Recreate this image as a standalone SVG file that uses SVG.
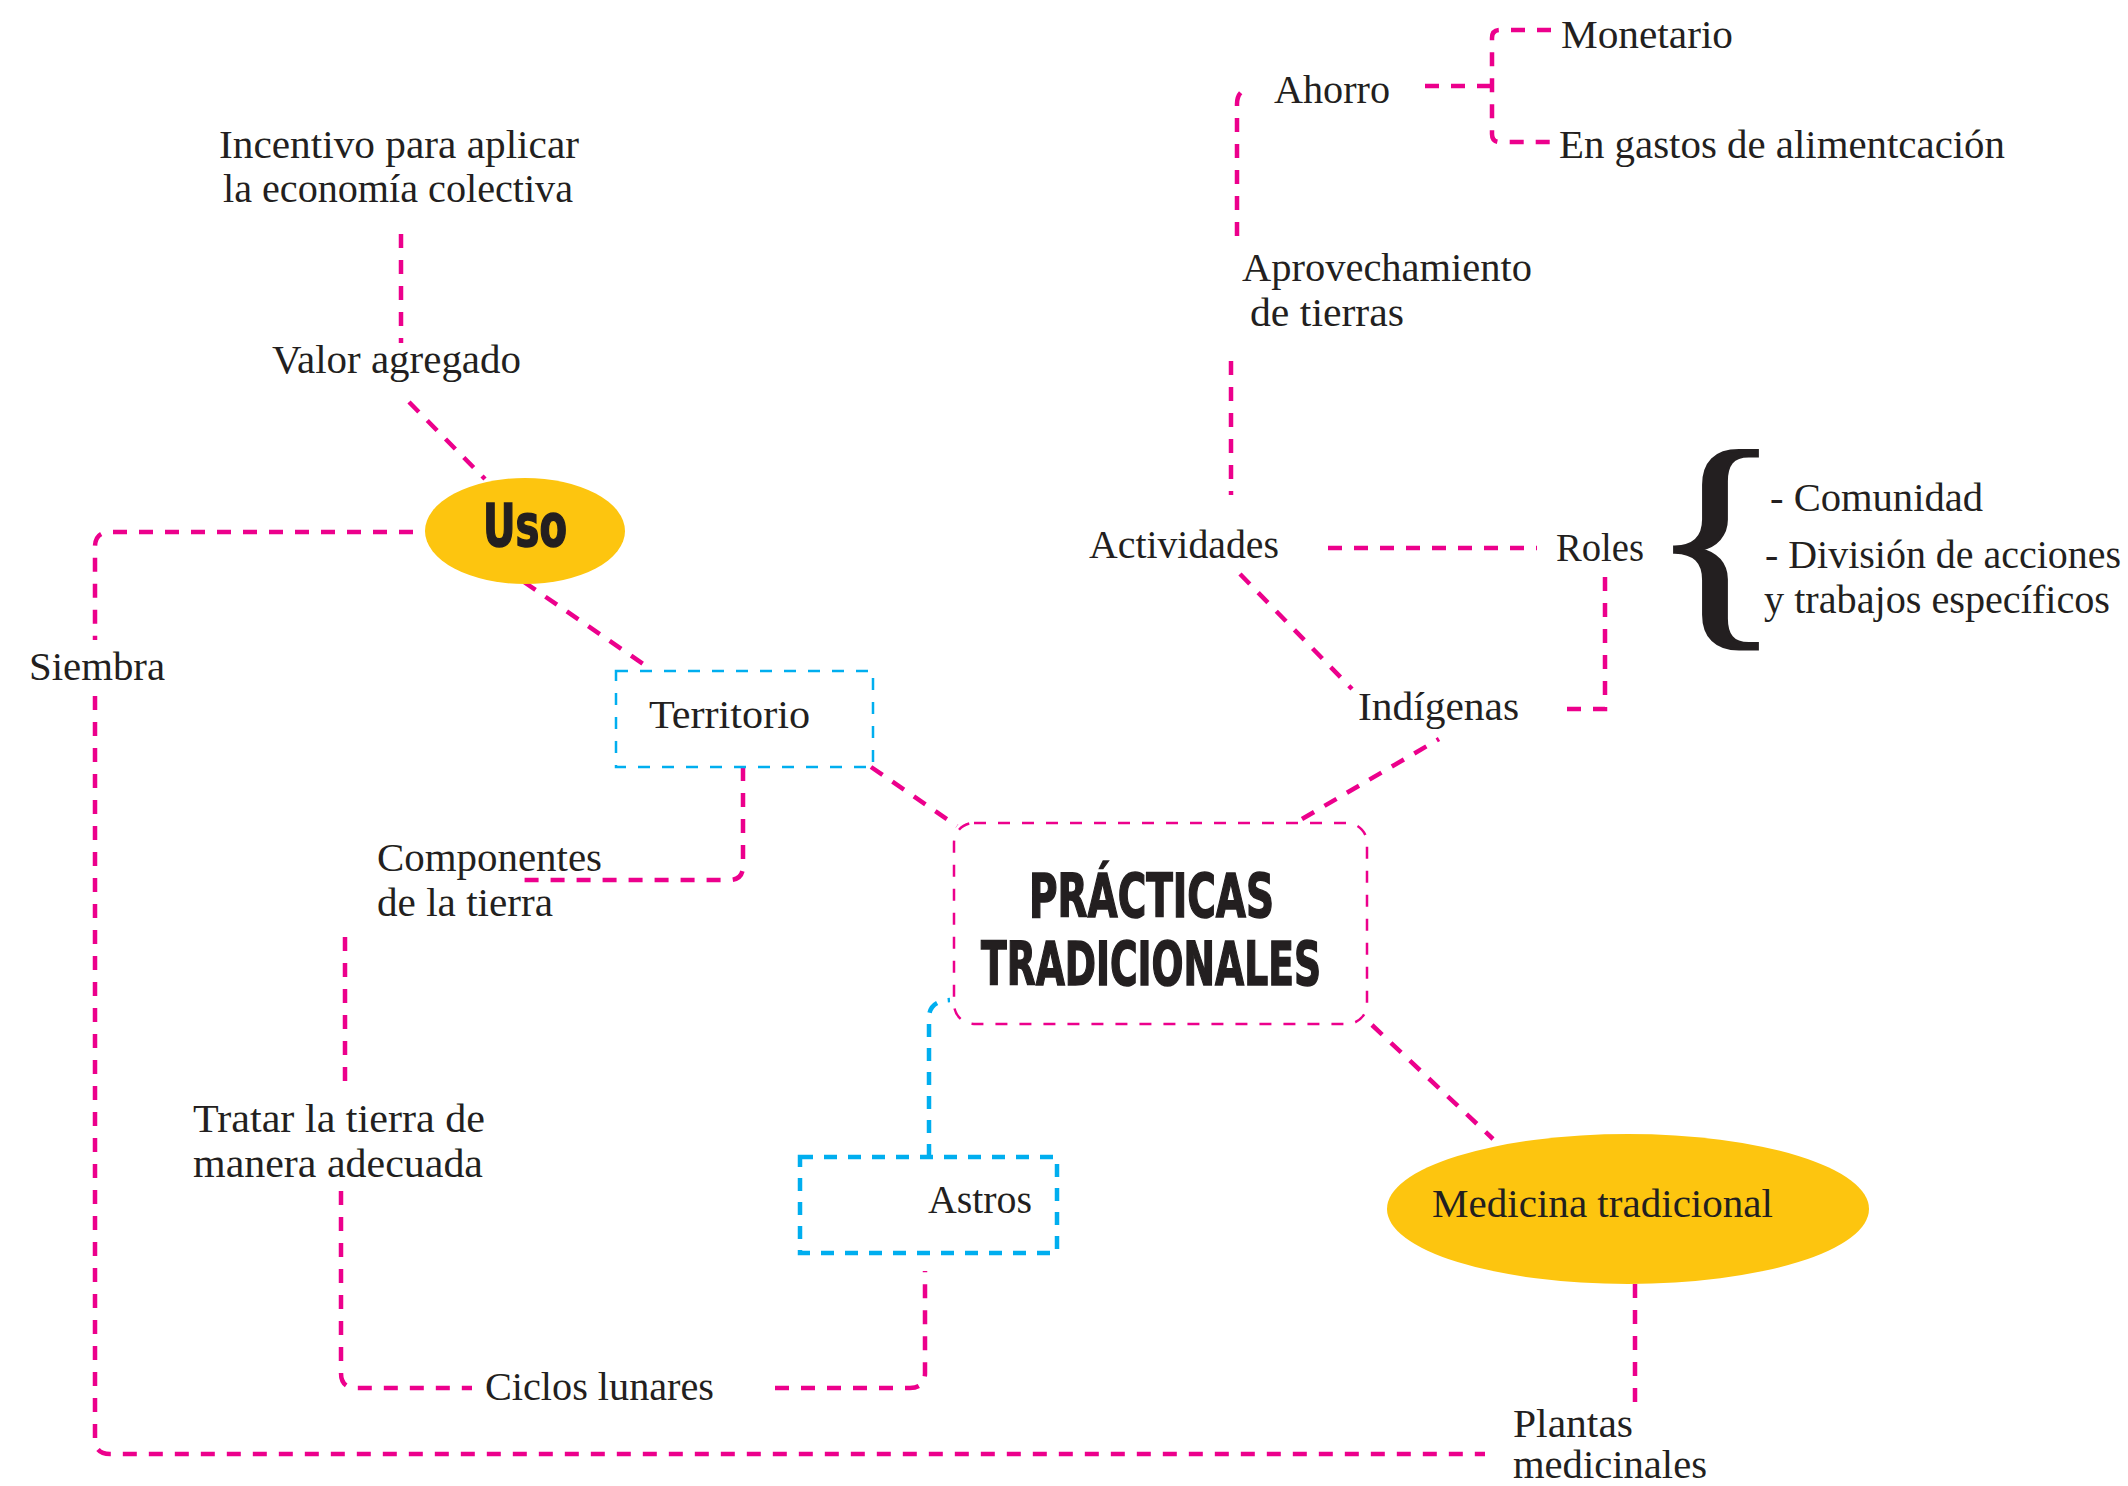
<svg xmlns="http://www.w3.org/2000/svg" width="2128" height="1486" viewBox="0 0 2128 1486">
<style>
.t{font-family:"Liberation Serif","Times New Roman",serif;font-size:40px;fill:#231F20}
.b{font-family:"Liberation Sans Narrow","DejaVu Sans Condensed","Liberation Sans",sans-serif;font-weight:bold;fill:#231F20;stroke:#231F20;stroke-width:1.5}
.br{font-family:"Liberation Serif","Times New Roman",serif;font-size:240px;fill:#231F20;stroke:#231F20;stroke-width:3}
.c{fill:none;stroke:#EC008C;stroke-width:4.5;stroke-dasharray:14 12}
.cb{fill:none;stroke:#00AEEF;stroke-width:4.5;stroke-dasharray:13 11}
.box{fill:none;stroke:#EC008C;stroke-width:2.5;stroke-dasharray:12 12}
.tbox{fill:none;stroke:#00AEEF;stroke-width:2.5;stroke-dasharray:12 12}
.abox{fill:none;stroke:#00AEEF;stroke-width:4.5;stroke-dasharray:13 11}
.ell{fill:#FDC50F}
</style>
<rect width="2128" height="1486" fill="#ffffff"/>
<g id="connectors">
<path class="c" d="M401,234 V343"/>
<path class="c" d="M409,402 L485,479"/>
<path class="c" d="M413,532 H110 Q95,532 95,547 V640"/>
<path class="c" d="M95,696 V1439 Q95,1454 110,1454 H1485"/>
<path class="c" d="M524,582 L649,668"/>
<path class="c" d="M871,767 L957,826"/>
<path class="c" d="M743,767 V866 Q743,880 729,880 H516"/>
<path class="c" d="M345,937 V1087"/>
<path class="c" d="M341,1191 V1373 Q341,1388 356,1388 H472"/>
<path class="c" d="M775,1388 H910 Q925,1388 925,1373 V1271"/>
<path class="cb" d="M929,1157 V1018 Q929,1001 950,1000"/>
<path class="c" d="M1302,819 L1439,739"/>
<path class="c" d="M1372,1025 L1493,1139"/>
<path class="c" d="M1635,1284 V1402"/>
<path class="c" d="M1567,709 H1605 V574"/>
<path class="c" d="M1328,548 H1537"/>
<path class="c" d="M1240,574 L1352,689"/>
<path class="c" d="M1231,361 V495"/>
<path class="c" d="M1237,236 V104 Q1237,90 1251,88"/>
<path class="c" d="M1425,86 H1492"/>
<path class="c" d="M1551,30 H1500 Q1492,30 1492,38 V134 Q1492,142 1500,142 H1551"/>
</g>
<g id="incentivo">
<text class="t" x="219" y="158" textLength="360" lengthAdjust="spacingAndGlyphs">Incentivo para aplicar</text>
<text class="t" x="223" y="202" textLength="350" lengthAdjust="spacingAndGlyphs">la economía colectiva</text>
</g>
<g id="valor"><text class="t" x="272" y="373" textLength="249" lengthAdjust="spacingAndGlyphs">Valor agregado</text></g>
<g id="uso">
<ellipse class="ell" cx="525" cy="531" rx="100" ry="53"/>
<text class="b" x="483" y="546" font-size="58" textLength="84" lengthAdjust="spacingAndGlyphs">Uso</text>
</g>
<g id="siembra"><text class="t" x="29" y="680" textLength="136" lengthAdjust="spacingAndGlyphs">Siembra</text></g>
<g id="territorio">
<rect class="tbox" x="616" y="671" width="257" height="96"/>
<text class="t" x="649" y="728" textLength="161" lengthAdjust="spacingAndGlyphs">Territorio</text>
</g>
<g id="componentes">
<text class="t" x="377" y="871" textLength="225" lengthAdjust="spacingAndGlyphs">Componentes</text>
<text class="t" x="377" y="916" textLength="176" lengthAdjust="spacingAndGlyphs">de la tierra</text>
</g>
<g id="tratar">
<text class="t" x="193" y="1132" textLength="292" lengthAdjust="spacingAndGlyphs">Tratar la tierra de</text>
<text class="t" x="193" y="1177" textLength="290" lengthAdjust="spacingAndGlyphs">manera adecuada</text>
</g>
<g id="ciclos"><text class="t" x="485" y="1400" textLength="229" lengthAdjust="spacingAndGlyphs">Ciclos lunares</text></g>
<g id="astros">
<rect class="abox" x="800" y="1157" width="257" height="96"/>
<text class="t" x="928" y="1213" textLength="104" lengthAdjust="spacingAndGlyphs">Astros</text>
</g>
<g id="practicas">
<rect class="box" x="954" y="823" width="413" height="201" rx="20" ry="20"/>
<text class="b" x="1029" y="917" font-size="60" textLength="245" lengthAdjust="spacingAndGlyphs">PRÁCTICAS</text>
<text class="b" x="981" y="985" font-size="60" textLength="340" lengthAdjust="spacingAndGlyphs">TRADICIONALES</text>
</g>
<g id="medicina">
<ellipse class="ell" cx="1628" cy="1209" rx="241" ry="75"/>
<text class="t" x="1432" y="1217" textLength="341" lengthAdjust="spacingAndGlyphs">Medicina tradicional</text>
</g>
<g id="plantas">
<text class="t" x="1513" y="1437" textLength="120" lengthAdjust="spacingAndGlyphs">Plantas</text>
<text class="t" x="1513" y="1478" textLength="194" lengthAdjust="spacingAndGlyphs">medicinales</text>
</g>
<g id="indigenas"><text class="t" x="1358" y="720" textLength="161" lengthAdjust="spacingAndGlyphs">Indígenas</text></g>
<g id="actividades"><text class="t" x="1089" y="558" textLength="190" lengthAdjust="spacingAndGlyphs">Actividades</text></g>
<g id="roles"><text class="t" x="1556" y="561" textLength="88" lengthAdjust="spacingAndGlyphs">Roles</text></g>
<g id="aprovechamiento">
<text class="t" x="1242" y="281" textLength="290" lengthAdjust="spacingAndGlyphs">Aprovechamiento</text>
<text class="t" x="1250" y="326" textLength="154" lengthAdjust="spacingAndGlyphs">de tierras</text>
</g>
<g id="ahorro"><text class="t" x="1274" y="103" textLength="116" lengthAdjust="spacingAndGlyphs">Ahorro</text></g>
<g id="monetario"><text class="t" x="1561" y="48" textLength="172" lengthAdjust="spacingAndGlyphs">Monetario</text></g>
<g id="gastos"><text class="t" x="1559" y="158" textLength="446" lengthAdjust="spacingAndGlyphs">En gastos de alimentcación</text></g>
<g id="roles-detalle">
<text class="br" x="1716" y="617" text-anchor="middle" transform="translate(1716 0) scale(1.15 1) translate(-1716 0)">{</text>
<text class="t" x="1770" y="511" textLength="213" lengthAdjust="spacingAndGlyphs">- Comunidad</text>
<text class="t" x="1765" y="568" textLength="356" lengthAdjust="spacingAndGlyphs">- División de acciones</text>
<text class="t" x="1764" y="613" textLength="346" lengthAdjust="spacingAndGlyphs">y trabajos específicos</text>
</g>
</svg>
